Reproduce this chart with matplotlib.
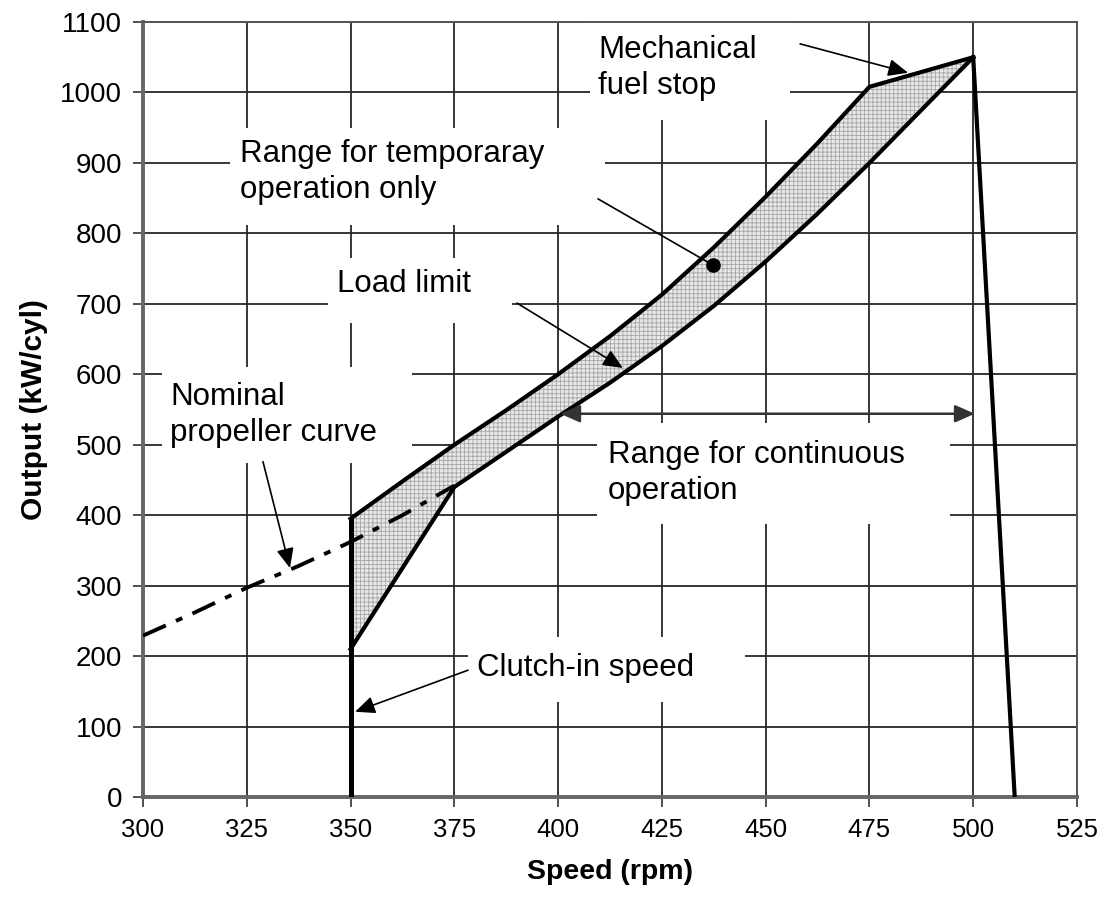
import matplotlib
matplotlib.use("Agg")
import matplotlib.pyplot as plt
from matplotlib.patches import Polygon, Rectangle

plt.rcParams['font.family'] = ['Liberation Sans', 'DejaVu Sans']
plt.rcParams['lines.scale_dashes'] = False
plt.rcParams['hatch.linewidth'] = 0.6

# ---- data ----
upper_speed = [350, 362.5, 375, 387.5, 400, 412.5, 425, 437.5, 450, 462.5, 475, 500]
upper_output = [395, 448, 500, 549, 600, 654, 713, 780, 852, 928, 1008, 1050]

lower_speed = [350, 375, 387.5, 400, 412.5, 425, 437.5, 450, 462.5, 475, 487.5, 500]
lower_output = [210, 440, 490, 540, 588, 640, 697, 760, 828, 900, 975, 1050]

clutch_speed = [350, 350]
clutch_output = [0, 395]

overspeed_speed = [500, 510]
overspeed_output = [1050, 0]

prop_speed = [300, 312.5, 325, 337.5, 350, 362.5, 375]
prop_output = [229, 262, 297, 328, 362, 400, 442]

dot_speed = 437.3
dot_output = 755

x_ticks = [300, 325, 350, 375, 400, 425, 450, 475, 500, 525]
y_ticks = [0, 100, 200, 300, 400, 500, 600, 700, 800, 900, 1000, 1100]

# ---- figure ----
fig = plt.figure(figsize=(11.12, 9.06), dpi=100)
ax = fig.add_axes([0.1286, 0.1203, 0.8399, 0.8554])
ax.set_xlim(300, 525)
ax.set_ylim(0, 1100)
ax.set_xticks(x_ticks)
ax.set_yticks(y_ticks)
ax.grid(True, color='#262626', lw=1.3, zorder=0)
ax.set_axisbelow(True)
for s in ['top', 'right']:
    ax.spines[s].set_color('#555555')
    ax.spines[s].set_linewidth(1.4)
for s in ['left', 'bottom']:
    ax.spines[s].set_color('#666666')
    ax.spines[s].set_linewidth(2.8)
ax.tick_params(direction='out', length=7, width=1.2, color='#333333', pad=8)
ax.tick_params(axis='x', labelsize=18.5)
ax.tick_params(axis='y', labelsize=20)
ax.set_xlabel('Speed (rpm)', fontsize=20.5, fontweight='bold', labelpad=12)
ax.set_ylabel('Output (kW/cyl)', fontsize=21.5, fontweight='bold', labelpad=9)

# white boxes behind annotation texts (layout, data coords)
boxes = [
    (407.7, 961, 48.2, 139),   # mechanical fuel stop
    (321.0, 812, 90.3, 138),   # temporary
    (344.6, 673, 44.3, 92),    # load limit
    (304.6, 474, 60.2, 136),   # nominal propeller
    (409.4, 387, 85.0, 144),   # continuous
    (378.3, 135, 66.7, 92),    # clutch-in
]
for (bx, by, bw, bh) in boxes:
    ax.add_patch(Rectangle((bx, by), bw, bh, facecolor='white',
                           edgecolor='none', zorder=1))

# shaded temporary range
poly_pts = list(zip(upper_speed, upper_output)) + list(zip(lower_speed[::-1], lower_output[::-1]))
ax.add_patch(Polygon(poly_pts, closed=True, facecolor='#e8e8e8',
                     edgecolor='#a6a6a6', lw=0, hatch='++++', zorder=2))

lw = 3.0
ax.plot(upper_speed, upper_output, color='black', lw=lw, zorder=4)
ax.plot(lower_speed, lower_output, color='black', lw=lw, zorder=4)
ax.plot(clutch_speed, clutch_output, color='black', lw=lw + 0.6, zorder=4)
ax.plot(overspeed_speed, overspeed_output, color='black', lw=lw, zorder=4)
ax.plot(prop_speed, prop_output, color='black', lw=2.8, zorder=3,
        dashes=(18, 8, 5, 8))
ax.plot([dot_speed], [dot_output], 'o', color='black', ms=9.5, zorder=5)

fs = 22.5
ax.text(409.6, 1035, 'Mechanical\nfuel stop', fontsize=fs, ha='left', va='center',
        linespacing=1.25, zorder=6)
ax.text(323.4, 887, 'Range for temporaray\noperation only', fontsize=fs, ha='left',
        va='center', linespacing=1.25, zorder=6)
ax.text(346.7, 728, 'Load limit', fontsize=fs, ha='left', va='center', zorder=6)
ax.text(306.5, 542, 'Nominal\npropeller curve', fontsize=fs, ha='left', va='center',
        linespacing=1.25, zorder=6)
ax.text(412.0, 460, 'Range for continuous\noperation', fontsize=fs, ha='left',
        va='center', linespacing=1.25, zorder=6)
ax.text(380.5, 183, 'Clutch-in speed', fontsize=fs, ha='left', va='center', zorder=6)

arr = dict(arrowstyle='-|>,head_length=0.5,head_width=0.22', color='black', lw=1.2,
           mutation_scale=24, shrinkA=0, shrinkB=0)
ax.annotate('', xy=(484.3, 1028), xytext=(458.3, 1069), arrowprops=arr, zorder=6)
ax.annotate('', xy=(415.6, 609), xytext=(390.1, 701), arrowprops=arr, zorder=6)
ax.annotate('', xy=(335.4, 325), xytext=(328.9, 476), arrowprops=arr, zorder=6)
ax.annotate('', xy=(351.1, 121), xytext=(378.3, 180), arrowprops=arr, zorder=6)
ax.annotate('', xy=(dot_speed, dot_output), xytext=(409.6, 849),
            arrowprops=dict(arrowstyle='-', color='black', lw=1.2,
                            shrinkA=0, shrinkB=0), zorder=6)
ax.annotate('', xy=(500.4, 544), xytext=(400.5, 544),
            arrowprops=dict(arrowstyle='<|-|>,head_length=0.5,head_width=0.22',
                            color='#333333', lw=1.8,
                            mutation_scale=24, shrinkA=0, shrinkB=0), zorder=6)

fig.savefig('out.png', dpi=100)
